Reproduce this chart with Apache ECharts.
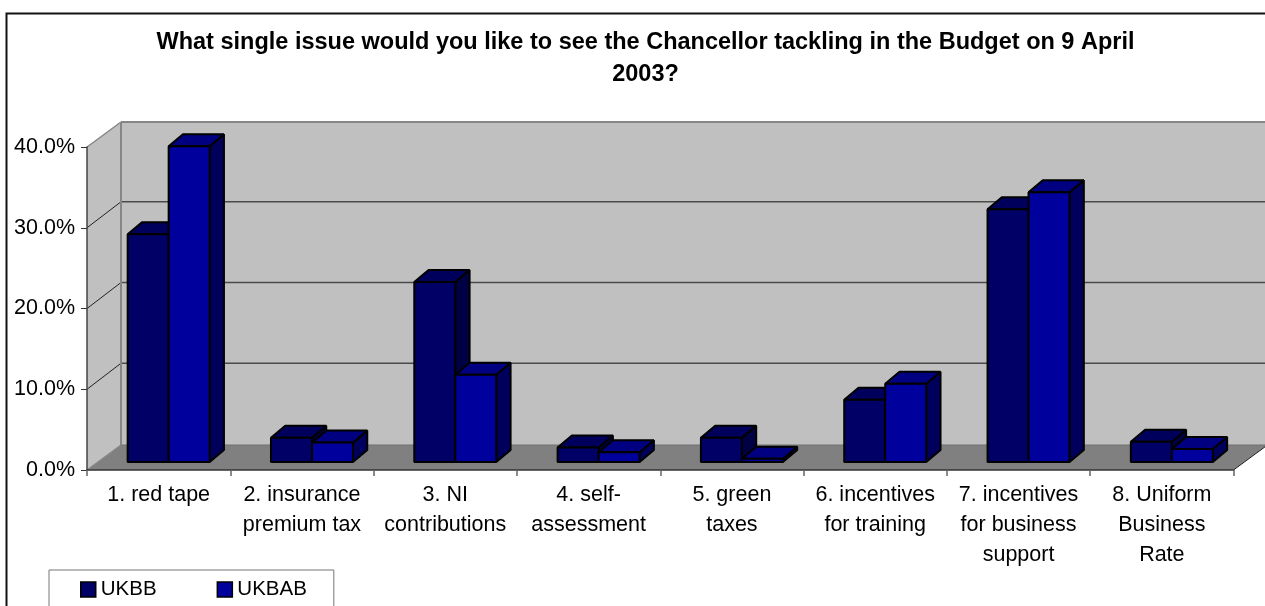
<!DOCTYPE html>
<html><head><meta charset="utf-8">
<style>html,body{margin:0;padding:0;background:#fff}#c{width:1265px;height:606px}</style>
<script src="https://cdn.jsdelivr.net/npm/echarts@6/dist/echarts.min.js"></script></head>
<body><div id="c"></div>
<script>
const titleText = 'What single issue would you like to see the Chancellor tackling in the Budget on 9 April\n2003?';
const categories = ['1. red tape','2. insurance\npremium tax','3. NI\ncontributions','4. self-\nassessment','5. green\ntaxes','6. incentives\nfor training','7. incentives\nfor business\nsupport','8. Uniform\nBusiness\nRate'];
const UKBB  = [28.2, 3.0, 22.3, 1.8, 3.0, 7.7, 31.3, 2.5];
const UKBAB = [39.1, 2.4, 10.8, 1.2, 0.4, 9.7, 33.4, 1.6];
const yTicks = [0, 10, 20, 30, 40];

const depthX = 34, depthY = -25;     // full floor depth on screen
const barFrontX = 10, barFrontY = -8; // where bars' front faces stand
const barDepthX = 14.3, barDepthY = -12;
const barWidth = 41;

const palette = {
  UKBB:  {front:'#000066', top:'#00005c', side:'#000044'},
  UKBAB: {front:'#00009c', top:'#000080', side:'#00005c'}
};
const poly = (pts, fill, stroke, lw) => ({type:'polygon', shape:{points:pts}, silent:true,
  style:{fill:fill, stroke:stroke||null, lineWidth:lw||0, lineJoin:'bevel'}});
const line = (a, b, stroke, lw) => ({type:'line', shape:{x1:a[0],y1:a[1],x2:b[0],y2:b[1]}, silent:true,
  style:{stroke:stroke, lineWidth:lw}});

function renderWalls(params, api){
  const band = api.size([1,0])[0];
  const n = categories.length;
  const L = api.coord([0,0])[0]-band/2, R = api.coord([n-1,0])[0]+band/2;
  const y0 = api.coord([0,yTicks[0]])[1], yT = api.coord([0,yTicks[yTicks.length-1]])[1];
  const kids = [
    poly([[L+depthX,yT+depthY],[R+depthX,yT+depthY],[R+depthX,y0+depthY],[L+depthX,y0+depthY]],'#c0c0c0'),
    poly([[L,yT],[L+depthX,yT+depthY],[L+depthX,y0+depthY],[L,y0]],'#c0c0c0'),
    poly([[L,y0],[R,y0],[R+depthX,y0+depthY],[L+depthX,y0+depthY]],'#808080')
  ];
  yTicks.slice(1,-1).forEach(t=>{
    const y = api.coord([0,t])[1];
    kids.push(line([L+depthX,y+depthY-1],[R+depthX,y+depthY-1],'#4a4a4a',1.5));
    kids.push(line([L,y],[L+depthX,y+depthY-1],'#222222',1));
  });
  kids.push(line([L+depthX,y0+depthY],[R+depthX,y0+depthY],'#707070',1.2));
  kids.push(line([L+depthX,yT+depthY],[R+depthX,yT+depthY],'#868686',2));
  kids.push(line([L+depthX,yT+depthY],[L+depthX,y0+depthY],'#868686',2));
  kids.push(line([L,yT],[L+depthX,yT+depthY],'#868686',1.5));
  kids.push(line([L,y0],[L+depthX,y0+depthY],'#868686',1.2));
  kids.push(line([R,y0],[R+depthX,y0+depthY],'#222222',1));
  return {type:'group', children:kids};
}

function makeBar(slot, colors){
  return function(params, api){
    const c = api.coord([api.value(0), 0]);
    const t = api.coord([api.value(0), api.value(1)]);
    const x0 = c[0] + barFrontX - barWidth + slot*barWidth;
    const x1 = x0 + barWidth;
    const yB = c[1] + barFrontY, yT = t[1] + barFrontY;
    const dx = barDepthX, dy = barDepthY;
    return {type:'group', children:[
      poly([[x1,yB],[x1+dx,yB+dy],[x1+dx,yT+dy],[x1,yT]],colors.side,'#000',2),
      poly([[x0,yT],[x1,yT],[x1+dx,yT+dy],[x0+dx,yT+dy]],colors.top,'#000',2),
      poly([[x0,yB],[x1,yB],[x1,yT],[x0,yT]],colors.front,'#000',2)
    ]};
  };
}

const chart = echarts.init(document.getElementById('c'), null, {renderer:'canvas'});
chart.setOption({
  animation:false,
  backgroundColor:'#ffffff',
  textStyle:{fontFamily:'"Liberation Sans", Arial, sans-serif'},
  graphic:[{type:'rect', silent:true, z:100, shape:{x:6.5,y:13.5,width:1400,height:800},
            style:{fill:'none', stroke:'#111', lineWidth:2}}],
  title:{text:titleText, left:640.5, top:21, textAlign:'center',
    textStyle:{fontFamily:'"Liberation Sans", Arial, sans-serif', fontSize:23.5, fontWeight:'bold', color:'#000', lineHeight:32.5}},
  legend:{left:49, top:570, orient:'horizontal', padding:[9,27,30,31], itemWidth:15, itemHeight:15, itemGap:60,
    borderColor:'#777', borderWidth:1, backgroundColor:'#fff',
    textStyle:{fontSize:20.5, color:'#000', fontFamily:'"Liberation Sans", Arial, sans-serif'},
    data:[
      {name:'UKBB', icon:'rect', itemStyle:{color:palette.UKBB.front, borderColor:'#000', borderWidth:1.5}},
      {name:'UKBAB', icon:'rect', itemStyle:{color:palette.UKBAB.front, borderColor:'#000', borderWidth:1.5}}
    ]},
  grid:{left:87, top:147, width:1146.5, height:323, containLabel:false},
  xAxis:{type:'category', data:categories, z:3, boundaryGap:true,
    axisLine:{show:true, lineStyle:{color:'#333', width:1.5}},
    axisTick:{show:true, length:6, alignWithLabel:false, interval:0, lineStyle:{color:'#666', width:1.5}},
    axisLabel:{show:true, interval:0, margin:10, fontSize:21.5, lineHeight:30, color:'#000', hideOverlap:false}},
  yAxis:{type:'value', min:0, max:40, interval:10, z:3,
    axisLine:{show:true, lineStyle:{color:'#444', width:1.5}},
    axisTick:{show:true, length:6, lineStyle:{color:'#333', width:1}},
    axisLabel:{show:true, margin:12, fontSize:21.5, color:'#000', formatter:v=>v.toFixed(1)+'%'},
    splitLine:{show:false}},
  series:[
    {type:'custom', name:'walls', z:1, clip:false, silent:true, renderItem:renderWalls, data:[[0,0]], encode:{x:0,y:1}},
    {type:'custom', name:'UKBB', z:4, clip:false, silent:true, renderItem:makeBar(0,palette.UKBB),
      itemStyle:{color:palette.UKBB.front}, data:UKBB.map((v,i)=>[i,v]), encode:{x:0,y:1}},
    {type:'custom', name:'UKBAB', z:5, clip:false, silent:true, renderItem:makeBar(1,palette.UKBAB),
      itemStyle:{color:palette.UKBAB.front}, data:UKBAB.map((v,i)=>[i,v]), encode:{x:0,y:1}}
  ]
});
</script></body></html>
